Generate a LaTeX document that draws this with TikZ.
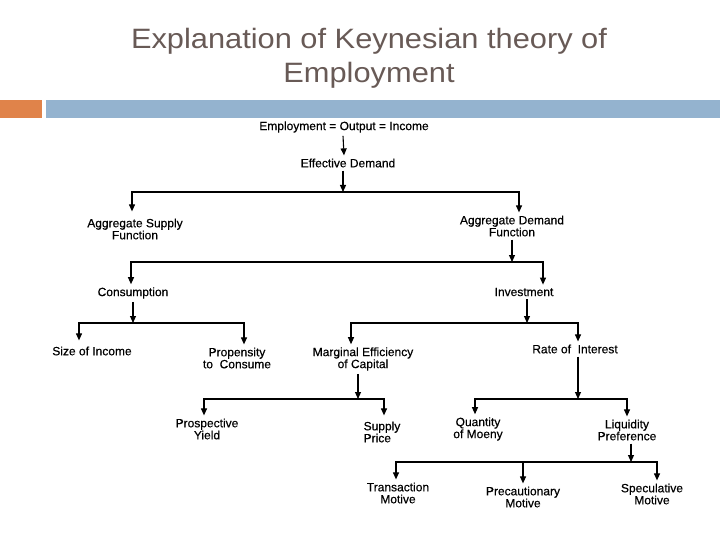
\documentclass[tikz,border=0pt]{standalone}
\usepackage{fontspec}
\setmainfont{Liberation Sans}
\newfontfamily\titlefont[FakeStretch=1.1]{Liberation Sans}
\newfontfamily\treefont[FakeBold=0.4]{Liberation Sans}
\usepackage{tikz}
\usetikzlibrary{arrows.meta, positioning, calc}
\usepackage{color}
\definecolor{title_grey}{RGB}{104,90,86}
\definecolor{bar_blue}{RGB}{148,179,207}
\definecolor{bar_orange}{RGB}{224,131,74}

\begin{document}
\begin{tikzpicture}[x=1pt, y=-1pt, >={Triangle[width=6pt, length=7pt]},
    every node/.style={inner xsep=1pt, inner ysep=3pt, align=center, font=\treefont\fontsize{12}{12}\selectfont},
    arr/.style={->, line width=1.1pt, black}]
      \useasboundingbox (0,0) rectangle (720,540);
      % title and bars
      \node[text=title_grey, font=\titlefont\fontsize{28}{34}\selectfont] (title) at (369,58) {Explanation of Keynesian theory of\\Employment};
      \fill[bar_orange] (0,100) rectangle (42,118);
      \fill[bar_blue] (46,100) rectangle (720,118);
      % tree nodes
      \node (eoi) at (344,127) {Employment = Output = Income};
      \node (ed) at (348,163) {Effective Demand};
      \node (asf) at (135,229) {Aggregate Supply\\Function};
      \node (adf) at (512,226) {Aggregate Demand\\Function};
      \node (con) at (133,293) {Consumption};
      \node (inv) at (524,292) {Investment};
      \node (soi) at (92,351) {Size of Income};
      \node (ptc) at (237,358) {Propensity\\to\ \ Consume};
      \node (mec) at (363,359) {Marginal Efficiency\\of Capital};
      \node (roi) at (575,349) {Rate of\ \ Interest};
      \node (py) at (207,429) {Prospective\\Yield};
      \node[align=left] (sp) at (382,432) {Supply\\Price};
      \node (qom) at (478,429) {Quantity\\of Moeny};
      \node (lp) at (627,430) {Liquidity\\Preference};
      \node (tm) at (398,493) {Transaction\\Motive};
      \node (pm) at (523,497) {Precautionary\\Motive};
      \node (sm) at (652,494) {Speculative\\Motive};
      % junctions on the buses
      \coordinate (j1) at (343,192);
      \coordinate (j2) at (512,262);
      \coordinate (j3) at (133,323);
      \coordinate (j4) at (527,323);
      \coordinate (j5) at (358,399);
      \coordinate (j6) at (578,399);
      \coordinate (j7) at (631,462);
      % connectors
      \draw[arr] ([xshift=-1pt]eoi.south) -- (eoi.south |- ed.north);
      \draw[arr] (ed.south -| j1) -- (j1);
      \draw[arr] (j1) -| ([xshift=-3pt, yshift=4pt]asf.north);
      \draw[arr] (j1) -| ([xshift=7pt]adf.north);
      \draw[arr] (adf.south -| j2) -- (j2);
      \draw[arr] (j2) -| ([xshift=-2pt]con.north);
      \draw[arr] (j2) -| ([xshift=19pt]inv.north);
      \draw[arr] (con.south -| j3) -- (j3);
      \draw[arr] (j3) -| ([xshift=-13pt, yshift=3pt]soi.north);
      \draw[arr] (j3) -| ([xshift=7pt]ptc.north);
      \draw[arr] (inv.south -| j4) -- (j4);
      \draw[arr] (j4) -| ([xshift=-12pt]mec.north);
      \draw[arr] (j4) -| ([xshift=3pt]roi.north);
      \draw[arr] (mec.south -| j5) -- (j5);
      \draw[arr] (j5) -| ([xshift=-3pt]py.north);
      \draw[arr] (j5) -| ([xshift=2pt, yshift=3pt]sp.north);
      \draw[arr] (roi.south -| j6) -- (j6);
      \draw[arr] (j6) -| ([xshift=-3pt]qom.north);
      \draw[arr] (j6) -| (lp.north);
      \draw[arr] (lp.south -| j7) -- (j7);
      \draw[arr] (j7) -| ([xshift=-2pt]tm.north);
      \draw[arr] (j7) -| (pm.north);
      \draw[arr] (j7) -| ([xshift=5pt]sm.north);
    \end{tikzpicture}
\end{document}
